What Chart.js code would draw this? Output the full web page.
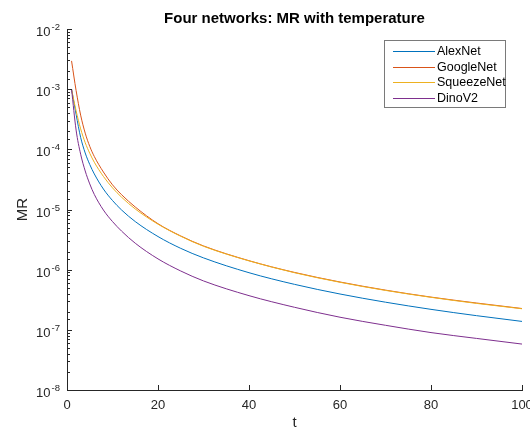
<!DOCTYPE html>
<html>
<head>
<meta charset="utf-8">
<title>Four networks: MR with temperature</title>
<script src="https://cdn.jsdelivr.net/npm/chart.js@4.4.1/dist/chart.umd.min.js"></script>
<style>
    html, body { margin: 0; padding: 0; background: #ffffff; }
    #contenedor { width: 530px; height: 430px; }
</style>
</head>
<body>
<div id="contenedor"><canvas id="chartMR"></canvas></div>
<script>
// Valores (MR frente a t, eje y logaritmico)
var valoresT = [1, 2, 3, 4, 5, 6, 8, 10, 12, 15, 20, 25, 30, 40, 50, 60, 70, 80, 90, 100];

var alexNet = [1.0e-3, 3.8e-4, 1.58e-4, 8.7e-5, 5.6e-5, 3.9e-5, 2.19e-5, 1.41e-5, 9.8e-6, 6.3e-6,
    3.55e-6, 2.26e-6, 1.57e-6, 8.9e-7, 5.7e-7, 3.94e-7, 2.88e-7, 2.19e-7, 1.72e-7, 1.38e-7];
var googleNet = [2.95e-3, 9.5e-4, 3.7e-4, 1.86e-4, 1.12e-4, 7.6e-5, 4.2e-5, 2.57e-5, 1.76e-5, 1.1e-5,
    5.8e-6, 3.63e-6, 2.48e-6, 1.41e-6, 9.0e-7, 6.24e-7, 4.57e-7, 3.5e-7, 2.79e-7, 2.26e-7];
var squeezeNet = [1.0e-3, 4.37e-4, 2.19e-4, 1.29e-4, 8.6e-5, 6.1e-5, 3.55e-5, 2.29e-5, 1.6e-5, 1.02e-5,
    5.7e-6, 3.59e-6, 2.45e-6, 1.4e-6, 8.9e-7, 6.17e-7, 4.52e-7, 3.47e-7, 2.75e-7, 2.24e-7];
var dinoV2 = [1.0e-3, 2.09e-4, 8.3e-5, 4.37e-5, 2.66e-5, 1.78e-5, 9.8e-6, 6.3e-6, 4.37e-6, 2.75e-6,
    1.51e-6, 9.5e-7, 6.5e-7, 3.7e-7, 2.37e-7, 1.62e-7, 1.19e-7, 9.0e-8, 7.2e-8, 5.8e-8];

var nombresRedes = ['AlexNet', 'GoogleNet', 'SqueezeNet', 'DinoV2'];

// Marcas de los ejes
var ticksX = [0, 20, 40, 60, 80, 100];
var yMin = 1e-8;
var yMax = 1e-2;

var familia = 'Helvetica, Arial, "Liberation Sans", sans-serif';
var colorEjes = '#262626';

function esDecada(v) {
    var e = Math.log10(v);
    return Math.abs(e - Math.round(e)) < 1e-6;
}

// Marcas cortas hacia dentro y etiquetas 10^n del eje y, estilo MATLAB
var marcasEjes = {
    id: 'marcasEjes',
    afterDatasetsDraw: function (chart) {
        var c = chart.ctx;
        var area = chart.chartArea;
        var ex = chart.scales.x;
        var ey = chart.scales.y;
        c.save();
        c.strokeStyle = colorEjes;
        c.lineWidth = 1;
        c.beginPath();
        ey.ticks.forEach(function (tk) {
            var py = Math.round(ey.getPixelForValue(tk.value)) + 0.5;
            var largo = esDecada(tk.value) ? 5 : 3;
            c.moveTo(area.left, py);
            c.lineTo(area.left + largo, py);
        });
        ex.ticks.forEach(function (tk) {
            var px = Math.round(ex.getPixelForValue(tk.value)) + 0.5;
            c.moveTo(px, area.bottom);
            c.lineTo(px, area.bottom - 5);
        });
        c.stroke();

        // etiquetas: "10" con el exponente en superindice
        c.fillStyle = colorEjes;
        c.textAlign = 'right';
        c.textBaseline = 'alphabetic';
        var bordeDer = area.left - 7;
        ey.ticks.forEach(function (tk) {
            if (!esDecada(tk.value)) return;
            var py = ey.getPixelForValue(tk.value);
            var exponente = String(Math.round(Math.log10(tk.value)));
            c.font = '9.5px ' + familia;
            var anchoExp = c.measureText(exponente).width;
            c.fillText(exponente, bordeDer, py + 1);
            c.font = '13px ' + familia;
            c.fillText('10', bordeDer - anchoExp - 1, py + 7);
        });
        c.restore();
    }
};

// Leyenda dentro del area del grafico, arriba a la derecha
var leyendaInterior = {
    id: 'leyendaInterior',
    afterDraw: function (chart) {
        var c = chart.ctx;
        var area = chart.chartArea;
        var ancho = 121, alto = 67;
        var x0 = Math.round(area.right - 17 - ancho);
        var y0 = Math.round(area.top + 11);
        c.save();
        c.fillStyle = '#ffffff';
        c.fillRect(x0, y0, ancho, alto);
        c.strokeStyle = '#7a7a7a';
        c.lineWidth = 1;
        c.strokeRect(x0 + 0.5, y0 + 0.5, ancho, alto);
        c.font = '12.5px ' + familia;
        c.textBaseline = 'middle';
        c.textAlign = 'left';
        chart.data.datasets.forEach(function (ds, i) {
            var yy = Math.round(y0 + 11 + i * 15.5) + 0.5;
            c.strokeStyle = ds.borderColor;
            c.beginPath();
            c.moveTo(x0 + 9, yy);
            c.lineTo(x0 + 51, yy);
            c.stroke();
            c.fillStyle = '#000000';
            c.fillText(ds.label, x0 + 53, yy);
        });
        c.restore();
    }
};

function inicializarGrafico() {
    var colores = {
        'AlexNet': '#0072BD',
        'GoogleNet': '#D95319',
        'SqueezeNet': '#EDB120',
        'DinoV2': '#7E2F8E'
    };
    var series = [alexNet, googleNet, squeezeNet, dinoV2];

    Chart.defaults.font.family = familia;

    var ctx = document.getElementById('chartMR');
    new Chart(ctx, {
        type: 'line',
        data: {
            datasets: series.map(function (serie, i) {
                return {
                    label: nombresRedes[i],
                    data: valoresT.map(function (t, j) { return { x: t, y: serie[j] }; }),
                    borderColor: colores[nombresRedes[i]],
                    backgroundColor: colores[nombresRedes[i]],
                    borderWidth: 1,
                    pointRadius: 0,
                    cubicInterpolationMode: 'monotone',
                    fill: false,
                    // la ultima serie queda encima, como en MATLAB
                    order: series.length - 1 - i
                };
            })
        },
        options: {
            responsive: true,
            maintainAspectRatio: false,
            animation: false,
            layout: { padding: { left: 0, right: 8, top: 0, bottom: 0 } },
            plugins: {
                legend: { display: false },
                tooltip: { enabled: false },
                title: {
                    display: true,
                    text: 'Four networks: MR with temperature',
                    fullSize: false,
                    color: '#000000',
                    font: { size: 15, weight: 'bold', lineHeight: 1.2 },
                    padding: { top: 10, bottom: 1 }
                }
            },
            scales: {
                x: {
                    type: 'linear',
                    min: 0,
                    max: 100,
                    afterBuildTicks: function (escala) {
                        escala.ticks = ticksX.map(function (v) { return { value: v }; });
                    },
                    afterFit: function (escala) {
                        escala.height = 40;
                        escala.paddingLeft = 0;
                        escala.paddingRight = 0;
                    },
                    ticks: {
                        color: colorEjes,
                        font: { size: 13 },
                        padding: 8,
                        maxRotation: 0,
                        autoSkip: false
                    },
                    grid: { display: false, drawTicks: false },
                    border: { display: true, color: colorEjes, width: 1 },
                    title: {
                        display: true,
                        text: 't',
                        color: colorEjes,
                        font: { size: 15, lineHeight: 1 },
                        padding: 0
                    }
                },
                y: {
                    type: 'logarithmic',
                    min: yMin,
                    max: yMax,
                    afterFit: function (escala) {
                        escala.width = 67;
                        escala.paddingTop = 0;
                        escala.paddingBottom = 0;
                    },
                    ticks: {
                        display: false,
                        autoSkip: false
                    },
                    grid: { display: false, drawTicks: false },
                    border: { display: true, color: colorEjes, width: 1 },
                    title: {
                        display: true,
                        text: 'MR',
                        color: colorEjes,
                        font: { size: 15, lineHeight: 1.2 },
                        padding: { top: 14, bottom: 0 }
                    }
                }
            }
        },
        plugins: [marcasEjes, leyendaInterior]
    });
}

inicializarGrafico();
</script>
</body>
</html>
